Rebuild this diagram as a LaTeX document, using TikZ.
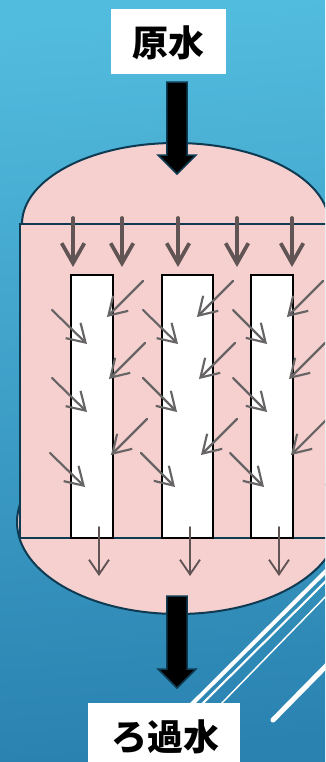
\documentclass[tikz,border=0pt]{standalone}
\usepackage{fontspec}
\newfontfamily\cjk{Noto Sans CJK JP}
\usetikzlibrary{shapes.arrows, arrows.meta, positioning}
\definecolor{bgtop}{RGB}{82,188,222}
\definecolor{bgbottom}{RGB}{42,130,176}
\definecolor{vesselfill}{RGB}{246,207,207}
\definecolor{vesselline}{RGB}{14,58,82}
\definecolor{flowbrown}{RGB}{96,84,84}
\definecolor{flowgray}{RGB}{102,100,100}

\begin{document}
\begin{tikzpicture}[
    x=0.75pt, y=-0.75pt,
    vessel/.style={draw=vesselline, line width=1.5pt, fill=vesselfill},
    label/.style={rectangle, fill=white, align=center, inner sep=0pt,
                  font=\cjk\bfseries\fontsize{27}{27}\selectfont},
    panel/.style={draw=black, line width=1.1pt, fill=white},
    bigarrow/.style={single arrow, draw=vesselline, line width=1.2pt, fill=black,
                     shape border rotate=270, inner sep=7pt, outer sep=0pt,
                     minimum height=69pt, minimum width=28pt,
                     single arrow head extend=6.6pt, single arrow tip angle=90},
    inarr/.style={-{Straight Barb[length=15pt, width=17pt]}, line width=2.8pt,
                  color=flowbrown, line cap=round},
    diagarr/.style={-{Straight Barb[length=13pt, width=16pt]}, line width=1.6pt,
                    color=flowgray, line cap=round},
    outarr/.style={-{Straight Barb[length=11pt, width=15pt]}, line width=1.4pt,
                   color=flowbrown, line cap=round},
    stripe/.style={white, line cap=butt}
]
\useasboundingbox (0,0) rectangle (325,762);
\clip (0,0) rectangle (325,762);

%% ── Background ──
\shade[top color=bgtop, bottom color=bgbottom, shading angle=5] (-5,-5) rectangle (330,767);

%% ── Stripes ──
\draw[stripe, line width=3pt]   (330,567) -- (190,706);
\draw[stripe, line width=1.6pt] (330,577) -- (200,706);
\draw[stripe, line width=1.1pt] (330,592) -- (219,706);
\draw[stripe, line width=3.8pt, line cap=round] (330,662) -- (273,720);

%% ── Vessel ──
\draw[vessel] (178,522) ellipse [x radius=161, y radius=92];
\draw[vessel] (22,224) arc [start angle=180, end angle=360, x radius=153.5, y radius=81];
\fill[vesselfill] (20,224) rectangle (340,538);
\draw[vesselline, line width=1.5pt] (340,224) -- (19.5,224) -- (19.5,538) -- (340,538);

%% ── Panels ──
\foreach \xa/\xb in {71/113, 162/213, 251/293} {
    \draw[panel] (\xa,275) rectangle (\xb,538);
    \draw[black, line width=1.6pt] (\xb,275) -- (\xb,538);
}

%% ── Flow arrows ──
\foreach \xa in {73,122,178,237,292}
    \draw[inarr] (\xa,218) -- (\xa,267);
\foreach \xa/\ya/\xb/\yb in {52/310/87/344, 52/378/87/412, 50/453/85/487,
                             143/310/178/344, 143/378/177/412, 141/453/175/487,
                             233/310/267/344, 233/378/267/412, 230/453/264/487,
                             143/281/107/317, 145/343/109/379, 147/419/111/455,
                             233/281/197/317, 235/343/199/379, 237/419/201/455,
                             323/281/287/317, 325/343/289/379, 327/419/291/455}
    \draw[diagarr] (\xa,\ya) -- (\xb,\yb);
\foreach \xa in {99,190,279}
    \draw[outarr] (\xa,527) -- (\xa,576);

%% ── Labels and main arrows ──
\fill[white] (111,9) rectangle (226,74);
\node[label] (raw) at (168.5,43) {原水};
\fill[white] (88,703) rectangle (240,762);
\node[label] (filtered) at (165,737) {ろ過水};
\node[bigarrow] (inflow) at (177,123) {};
\node[bigarrow] (outflow) at (177,637) {};

\end{tikzpicture}
\end{document}
